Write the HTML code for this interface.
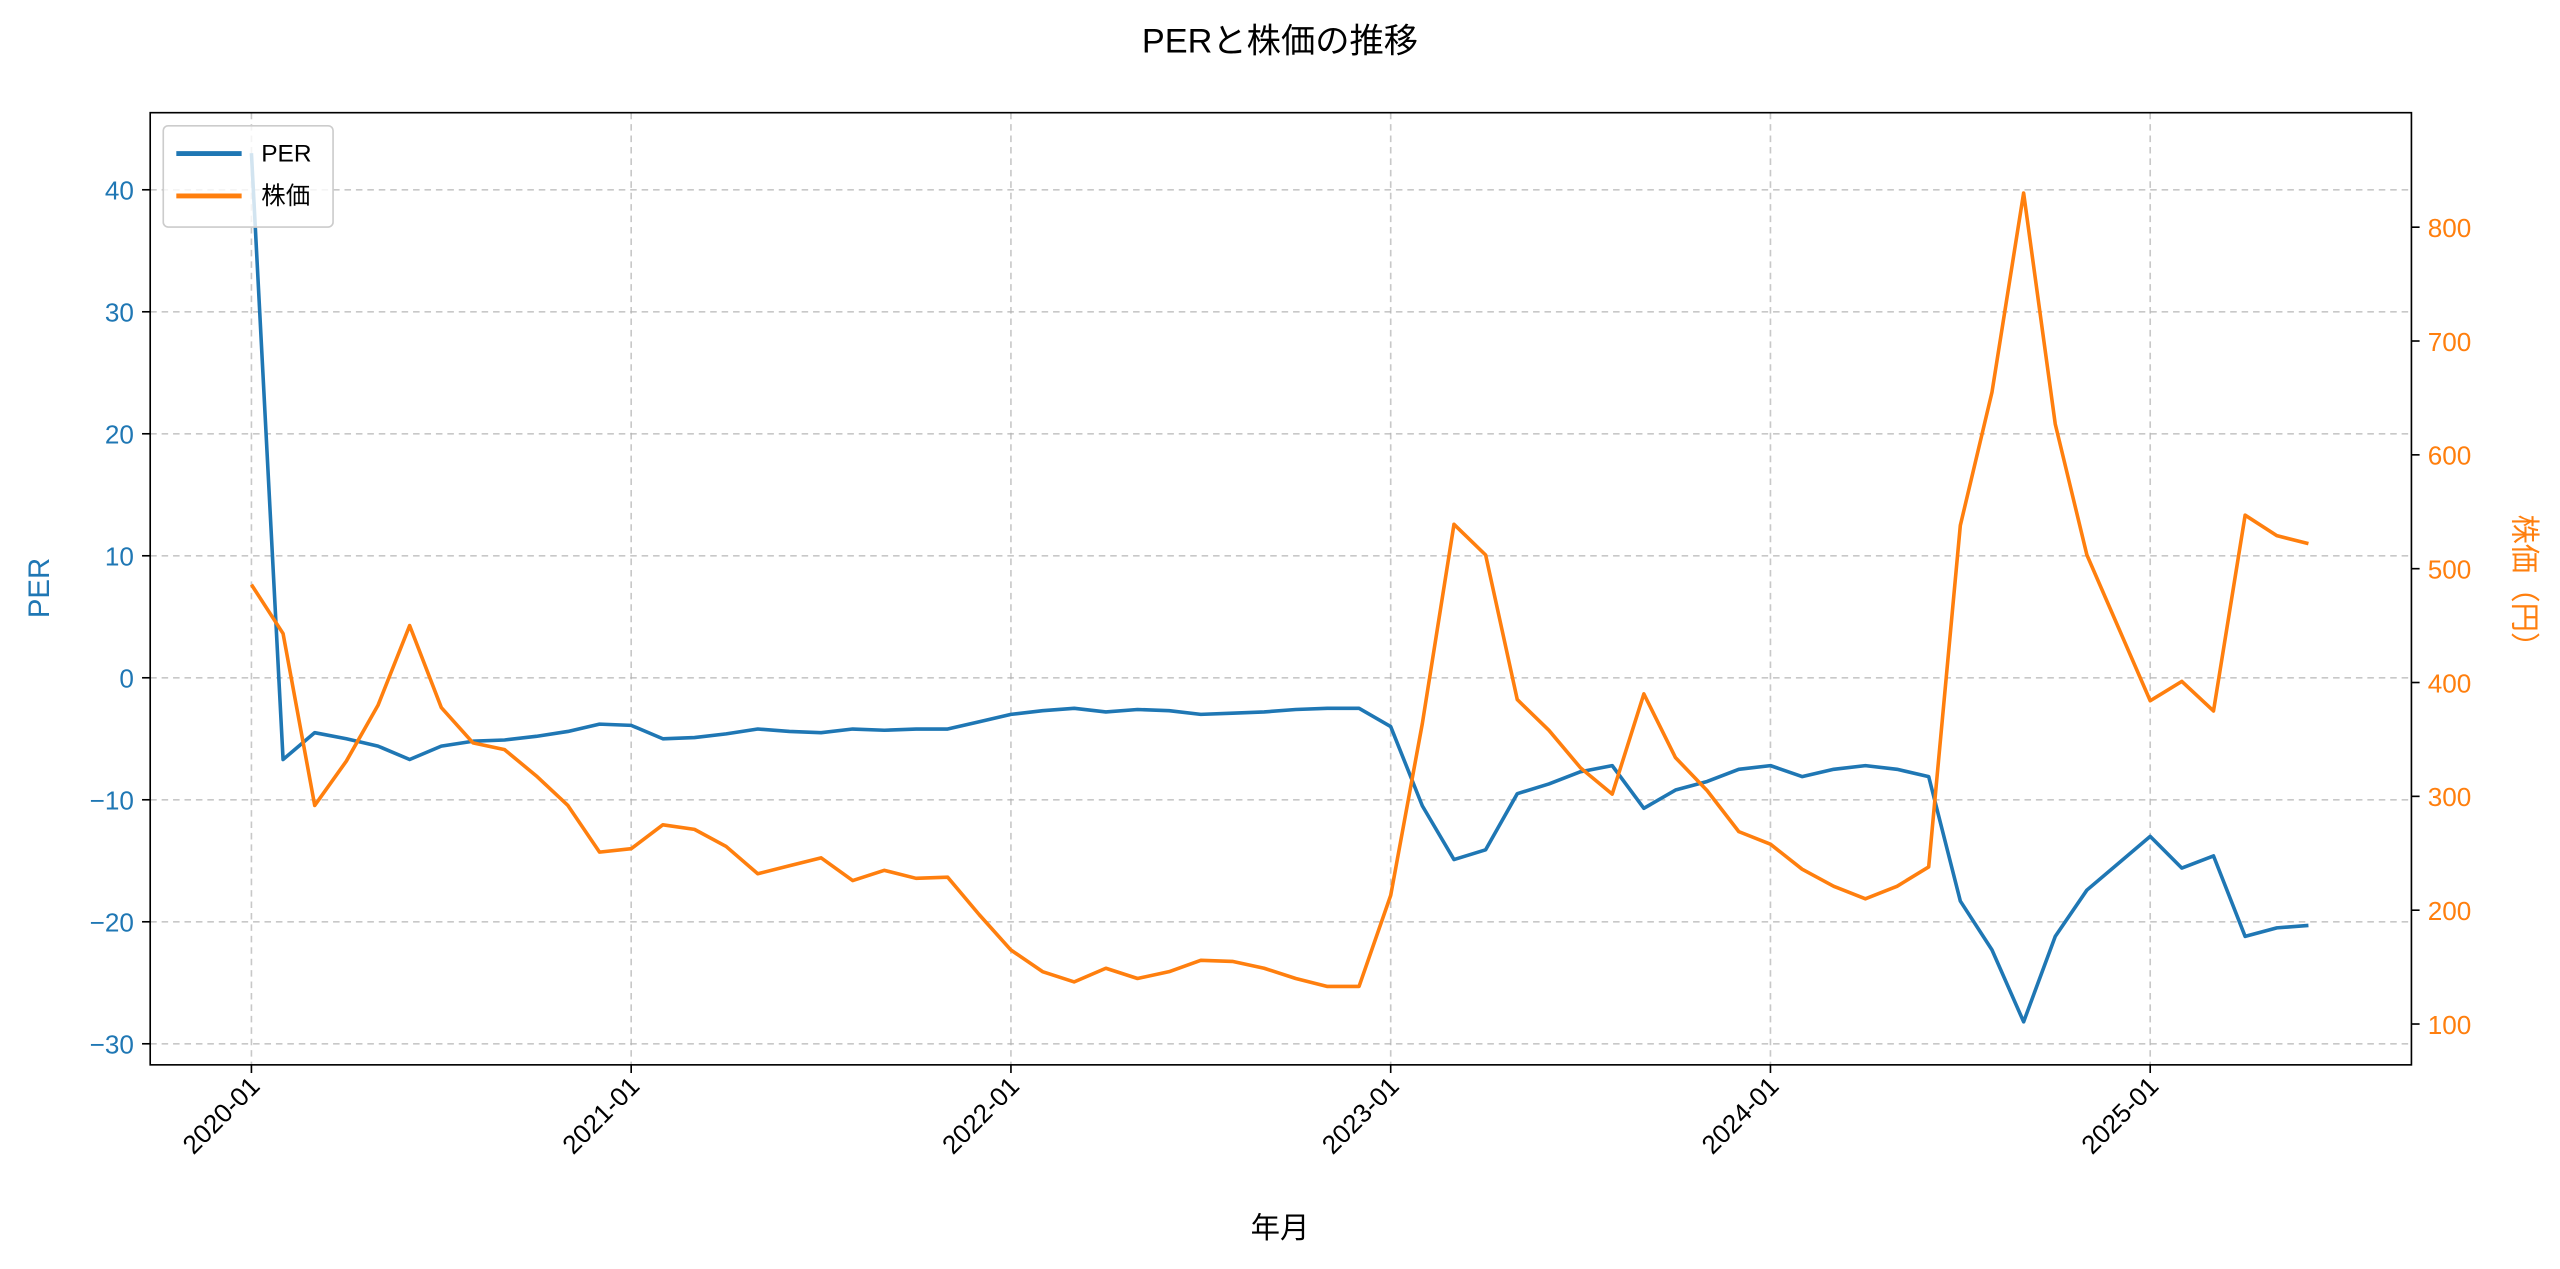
<!DOCTYPE html>
<html><head><meta charset="utf-8"><style>
html,body{margin:0;padding:0;background:#fff;width:2560px;height:1269px;overflow:hidden}
text{font-family:"Liberation Sans","Noto Sans CJK JP",sans-serif}
</style></head><body>
<svg id="chart" width="2560" height="1269" viewBox="0 0 1568 777" preserveAspectRatio="none" xmlns="http://www.w3.org/2000/svg">
<text x="784" y="32" font-size="21" text-anchor="middle" fill="#000">PERと株価の推移</text>
<g id="grid"></g>
<g id="lines"></g>
<rect x="92" y="69" width="1385" height="583" fill="none" stroke="#000" stroke-width="1"/>
<g id="axes"></g>
<text transform="translate(30,360) rotate(-90)" font-size="18" text-anchor="middle" fill="#1f77b4">PER</text>
<text transform="translate(1540,360) rotate(90)" font-size="18" text-anchor="middle" fill="#ff7f0e">株価（円）</text>
<text x="784" y="758" font-size="18" text-anchor="middle" fill="#000">年月</text>
<g>
<rect x="100" y="77" width="104" height="62" rx="3" fill="#fff" fill-opacity="0.8" stroke="#ccc"/>
<line x1="108" y1="94" x2="148" y2="94" stroke="#1f77b4" stroke-width="3"/>
<text x="160" y="99" font-size="15">PER</text>
<line x1="108" y1="120" x2="148" y2="120" stroke="#ff7f0e" stroke-width="3"/>
<text x="160" y="125" font-size="15">株価</text>
</g>
</svg>
<script>
const startYear = 2020;
const yearTicks = ["2020-01","2021-01","2022-01","2023-01","2024-01","2025-01"];
const perTicks = [-30,-20,-10,0,10,20,30,40];
const priceTicks = [100,200,300,400,500,600,700,800];
const perValues = [43,-6.7,-4.5,-5,-5.6,-6.7,-5.6,-5.2,-5.1,-4.8,-4.4,-3.8,-3.9,-5.0,-4.9,-4.6,-4.2,-4.4,-4.5,-4.2,-4.3,-4.2,-4.2,-3.6,-3.0,-2.7,-2.5,-2.8,-2.6,-2.7,-3.0,-2.9,-2.8,-2.6,-2.5,-2.5,-4.0,-10.5,-14.9,-14.1,-9.5,-8.7,-7.7,-7.2,-10.7,-9.2,-8.5,-7.5,-7.2,-8.1,-7.5,-7.2,-7.5,-8.1,-18.3,-22.3,-28.2,-21.2,-17.4,-15.2,-13.0,-15.6,-14.6,-21.2,-20.5,-20.3];
const priceValues = [486,443,292,331,380,450,378,347,341,318,292,251,254,275,271,256,232,239,246,226,235,228,229,196,165,146,137,149,140,146,156,155,149,140,133,133,213,364,539,512,385,358,325,302,390,334,305,269,258,236,221,210,221,238,538,655,830,627,512,448,384,401,375,547,529,522];

const NS="http://www.w3.org/2000/svg";
const X0=92,X1=1477,Y0=69,Y1=652;
const xMonth = i => 154 + i*(1317-154)/60;
const yPer = v => 415 - v*7.47;
const yPrice = v => 627 - (v-100)*0.697;
function mk(tag, attrs, parent, txt){const e=document.createElementNS(NS,tag);for(const k in attrs)e.setAttribute(k,attrs[k]);if(txt!==undefined)e.textContent=txt;parent.appendChild(e);return e;}
const grid=document.getElementById('grid'), axes=document.getElementById('axes'), lines=document.getElementById('lines');
const gs={stroke:"#b0b0b0","stroke-width":1,"stroke-dasharray":"4,3","stroke-opacity":0.7};
yearTicks.forEach((t,k)=>{
  const x=xMonth(k*12);
  const g=mk('line',Object.assign({x1:x,x2:x,y1:Y0,y2:Y1},gs),grid);
  
  
  const tk=mk('line',{x1:x,x2:x,y1:Y1,y2:Y1+5,stroke:"#000"},axes);
  
  
  const lb=mk('text',{transform:`translate(${x+6},${Y1+14}) rotate(-45)`,"font-size":16,"text-anchor":"end"},axes,t);
  
  
});
perTicks.forEach(v=>{
  const y=yPer(v);
  const g=mk('line',Object.assign({x1:X0,x2:X1,y1:y,y2:y},gs),grid);
  
  
  const tk=mk('line',{x1:X0-5,x2:X0,y1:y,y2:y,stroke:"#000"},axes);
  
  
  const lb=mk('text',{x:X0-10,y:y+6,"font-size":16,"text-anchor":"end",fill:"#1f77b4"},axes,v<0?"\u2212"+(-v):String(v));
  
  
});
priceTicks.forEach(v=>{
  const y=yPrice(v);
  const tk=mk('line',{x1:X1,x2:X1+5,y1:y,y2:y,stroke:"#000"},axes);
  
  
  const lb=mk('text',{x:X1+10,y:y+6,"font-size":16,"text-anchor":"start",fill:"#ff7f0e"},axes,String(v));
  
  
});
const pPer=mk('polyline',{points:perValues.map((v,i)=>xMonth(i)+","+yPer(v)).join(" "),fill:"none",stroke:"#1f77b4","stroke-width":2.2,"stroke-linejoin":"round"},lines);


const pPr=mk('polyline',{points:priceValues.map((v,i)=>xMonth(i)+","+yPrice(v)).join(" "),fill:"none",stroke:"#ff7f0e","stroke-width":2.2,"stroke-linejoin":"round"},lines);


</script>
</body></html>
